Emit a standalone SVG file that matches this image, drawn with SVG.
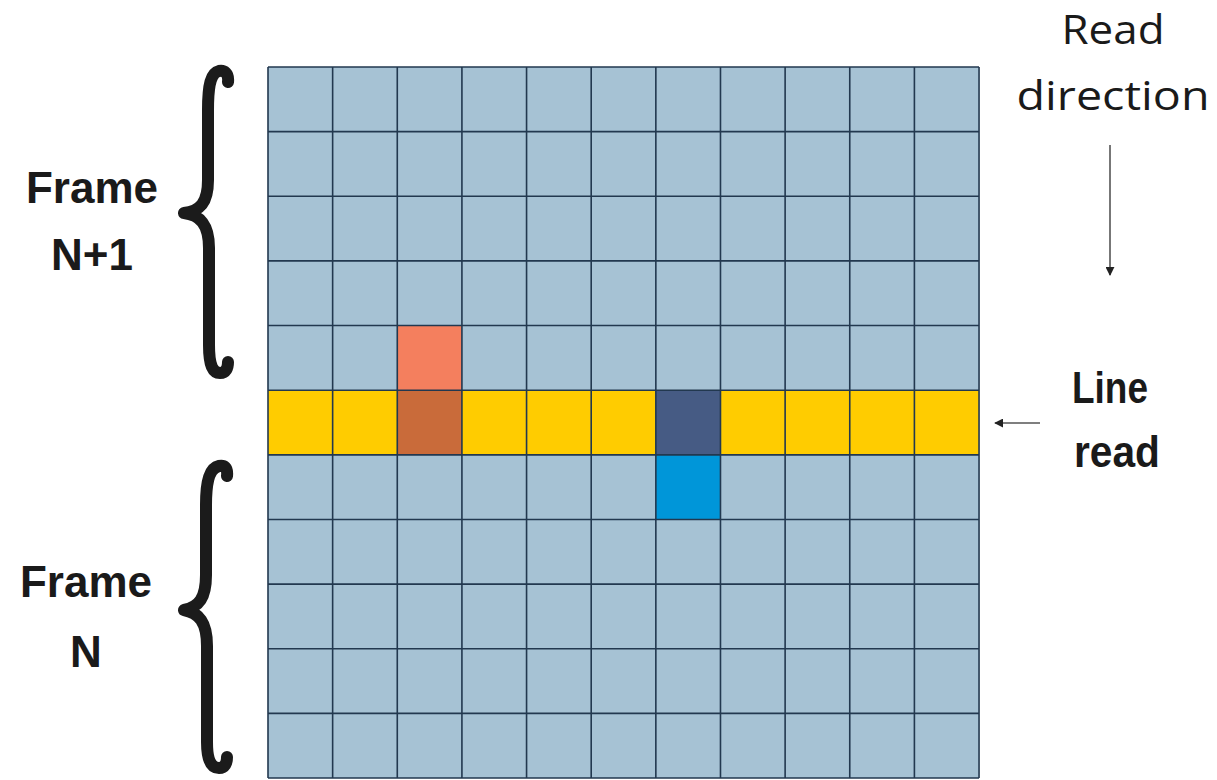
<svg xmlns="http://www.w3.org/2000/svg" width="1217" height="780" viewBox="0 0 1217 780">
<defs>
<style>
.cell{fill:#a6c2d4}
.grid{stroke:#22384f;stroke-width:1.6;fill:none}
.brace{fill:none;stroke:#1b1b1b;stroke-width:12;stroke-linecap:round;stroke-linejoin:round}
.lbl{font-family:"Liberation Sans",Arial,sans-serif;font-weight:bold;font-size:44px;fill:#1a1a1a;text-anchor:middle}
.lblr{font-family:"Open Sans","Liberation Sans",Arial,sans-serif;font-size:41px;fill:#1a1a1a;text-anchor:middle}
.arr{stroke:#555;stroke-width:1.6;fill:none}
</style>
<marker id="ah" viewBox="0 0 10 10" refX="9" refY="5" markerWidth="9" markerHeight="9" markerUnits="userSpaceOnUse" orient="auto">
<path d="M0,0 L10,5 L0,10 z" fill="#222"/>
</marker>
</defs>
<rect width="1217" height="780" fill="#ffffff"/>
<g id="matrix">
<rect class="cell" x="268" y="67" width="711.04" height="711.04"/>
<rect x="268" y="390.2" width="711.04" height="64.64" fill="#ffcc00"/>
<rect x="397.28" y="325.56" width="64.64" height="64.64" fill="#f47f5e"/>
<rect x="397.28" y="390.2" width="64.64" height="64.64" fill="#c96b3a"/>
<rect x="655.84" y="390.2" width="64.64" height="64.64" fill="#465b84"/>
<rect x="655.84" y="454.84" width="64.64" height="64.64" fill="#0096d9"/>
<path class="grid" d="M268,67V778.04M332.64,67V778.04M397.28,67V778.04M461.92,67V778.04M526.56,67V778.04M591.2,67V778.04M655.84,67V778.04M720.48,67V778.04M785.12,67V778.04M849.76,67V778.04M914.4,67V778.04M979.04,67V778.04M268,67H979.04M268,131.64H979.04M268,196.28H979.04M268,260.92H979.04M268,325.56H979.04M268,390.2H979.04M268,454.84H979.04M268,519.48H979.04M268,584.12H979.04M268,648.76H979.04M268,713.4H979.04M268,778.04H979.04"/>
</g>
<g id="brace-n1">
<path class="brace" d="M228,82 C229,73 224,70 219,71 C211,73 208,84 208,110 L208,180 C208,203 200,211 184,213 C200,215 209,224 209,248 L209,345 C209,366 213,373 220,373 C226,373 228,368 228,362"/>
</g>
<g id="brace-n">
<path class="brace" d="M227,476 C228,467 224,465 219,466 C210,468 206,480 206,505 L206,575 C206,598 199,607 184,610 C199,613 207,622 207,646 L207,742 C207,762 212,768 219,768 C225,768 227,763 227,757"/>
</g>
<g id="label-frame-n1">
<text class="lbl" x="92" y="203">Frame</text>
<text class="lbl" x="92" y="270">N+1</text>
</g>
<g id="label-frame-n">
<text class="lbl" x="86" y="597">Frame</text>
<text class="lbl" x="86" y="667">N</text>
</g>
<g id="label-read-direction">
<text class="lblr" x="1113" y="44" textLength="103" lengthAdjust="spacingAndGlyphs">Read</text>
<text class="lblr" x="1113" y="110" textLength="193" lengthAdjust="spacingAndGlyphs">direction</text>
</g>
<g id="label-line-read">
<text class="lbl" x="1110" y="403" textLength="76" lengthAdjust="spacingAndGlyphs">Line</text>
<text class="lbl" x="1117" y="467" textLength="86" lengthAdjust="spacingAndGlyphs">read</text>
</g>
<g id="connectors">
<line class="arr" x1="1110" y1="145" x2="1110" y2="275" marker-end="url(#ah)"/>
<line class="arr" x1="1040" y1="423" x2="995" y2="423" marker-end="url(#ah)"/>
</g>
</svg>
